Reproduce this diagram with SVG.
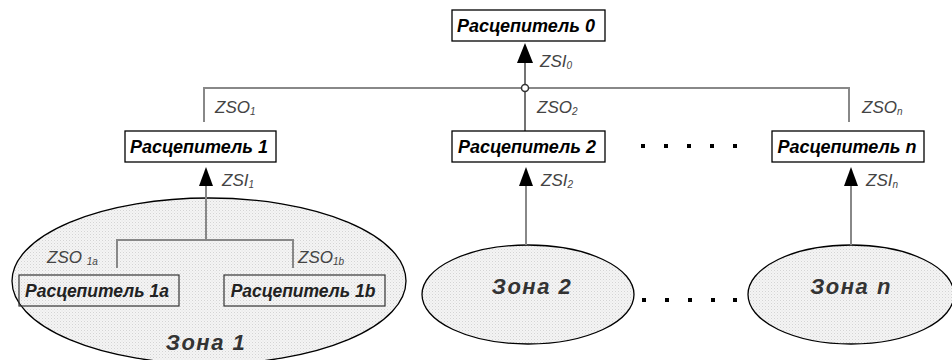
<svg xmlns="http://www.w3.org/2000/svg" width="952" height="360" viewBox="0 0 952 360">
<defs>
<pattern id="dots" width="3" height="3" patternUnits="userSpaceOnUse">
<rect width="3" height="3" fill="#f4f4f4"/>
<rect width="1" height="1" fill="#d4d4d4"/>
<rect x="1.5" y="1.5" width="1" height="1" fill="#e0e0e0"/>
</pattern>
</defs>
<style>
.box{fill:#fff;stroke:#000;stroke-width:1.3}
.sbox{fill:none;stroke:#333;stroke-width:1.2}
.zone{fill:url(#dots);stroke:#000;stroke-width:1.3}
.bt{font-family:"Liberation Sans",Arial,sans-serif;font-weight:bold;font-style:italic;font-size:18px;fill:#000;text-anchor:middle}
.st{font-family:"Liberation Sans",Arial,sans-serif;font-weight:bold;font-style:italic;font-size:17.5px;fill:#222;text-anchor:middle}
.zt{font-family:"Liberation Sans",Arial,sans-serif;font-weight:bold;font-style:italic;font-size:22px;fill:#333;text-anchor:middle;letter-spacing:1.5px}
.lb{font-family:"Liberation Sans",Arial,sans-serif;font-style:italic;font-size:17px;fill:#444}
.sub{font-size:10px}
.gl{fill:none;stroke:#888;stroke-width:2}
.dl{fill:none;stroke:#444;stroke-width:1.5}
.ah{fill:#000}
.dot{fill:#000}
</style>
<g id="zone1"><ellipse class="zone" cx="209" cy="281" rx="197" ry="83"/><text class="zt" x="206" y="350">Зона 1</text></g>
<g id="zone2"><ellipse class="zone" cx="528" cy="294.5" rx="106" ry="49.5"/><text class="zt" x="532" y="294">Зона 2</text></g>
<g id="zonen"><ellipse class="zone" cx="851" cy="294.5" rx="103" ry="49.5"/><text class="zt" x="851" y="294">Зона n</text></g>
<g id="connectors">
<path class="gl" d="M204 122 V88 H849 V122"/>
<path class="dl" d="M525 62 V131"/>
<circle cx="525" cy="88" r="3.5" fill="#fff" stroke="#333" stroke-width="1.5"/>
<polygon class="ah" points="525,43 517,63 533,63"/>
<path class="gl" d="M206 185 V240 M117 268 V240 H293 V268"/>
<polygon class="ah" points="206,167 199,186 213,186"/>
<path class="gl" d="M526 185 V245"/>
<polygon class="ah" points="526,167 519,186 533,186"/>
<path class="gl" d="M851 185 V245"/>
<polygon class="ah" points="851,167 844,186 858,186"/>
</g>
<g id="labels">
<text class="lb" x="540" y="67">ZSI<tspan class="sub" dy="2">0</tspan></text>
<text class="lb" x="215" y="113">ZSO<tspan class="sub" dy="2">1</tspan></text>
<text class="lb" x="537" y="113">ZSO<tspan class="sub" dy="2">2</tspan></text>
<text class="lb" x="862" y="113">ZSO<tspan class="sub" dy="2">n</tspan></text>
<text class="lb" x="222" y="186">ZSI<tspan class="sub" dy="2">1</tspan></text>
<text class="lb" x="541" y="186">ZSI<tspan class="sub" dy="2">2</tspan></text>
<text class="lb" x="866" y="186">ZSI<tspan class="sub" dy="2">n</tspan></text>
<text class="lb" x="47" y="263">ZSO <tspan class="sub" dy="2">1a</tspan></text>
<text class="lb" x="298" y="263">ZSO<tspan class="sub" dy="2">1b</tspan></text>
</g>
<g id="r0"><rect class="box" x="452" y="10" width="153" height="31"/><text class="bt" x="526" y="32">Расцепитель 0</text></g>
<g id="r1"><rect class="box" x="125" y="131" width="151" height="31"/><text class="bt" x="199" y="153">Расцепитель 1</text></g>
<g id="r2"><rect class="box" x="452" y="131" width="153" height="31"/><text class="bt" x="527" y="153">Расцепитель 2</text></g>
<g id="rn"><rect class="box" x="772" y="131" width="152" height="31"/><text class="bt" x="847" y="153">Расцепитель n</text></g>
<g id="r1a"><rect class="sbox" x="19" y="275" width="160" height="31"/><text class="st" x="97" y="297">Расцепитель 1a</text></g>
<g id="r1b"><rect class="sbox" x="224" y="275" width="161" height="31"/><text class="st" x="303" y="297">Расцепитель 1b</text></g>
<g id="dots1">
<rect class="dot" x="641" y="144" width="4" height="4"/><rect class="dot" x="664" y="144" width="4" height="4"/><rect class="dot" x="687" y="144" width="4" height="4"/><rect class="dot" x="710" y="144" width="4" height="4"/><rect class="dot" x="733" y="144" width="4" height="4"/>
</g>
<g id="dots2">
<rect class="dot" x="642" y="298" width="4" height="4"/><rect class="dot" x="665" y="298" width="4" height="4"/><rect class="dot" x="688" y="298" width="4" height="4"/><rect class="dot" x="711" y="298" width="4" height="4"/><rect class="dot" x="733" y="298" width="4" height="4"/>
</g>
</svg>
